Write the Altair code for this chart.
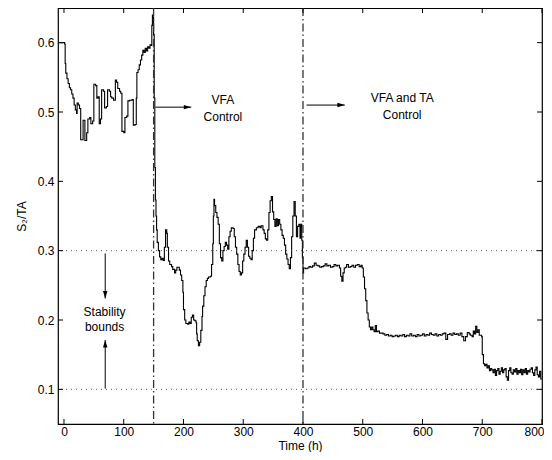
import altair as alt
import pandas as pd

# ---- main series, in segments (time h, S2/TA) ----
tA = [-8, 1, 2, 3, 5, 7, 9, 11, 13, 15, 17, 19, 21, 22, 24, 26, 28, 32, 35, 38, 40, 43, 45, 48]
vA = [0.600, 0.598, 0.570, 0.556, 0.548, 0.541, 0.535, 0.532, 0.526, 0.520, 0.510, 0.503, 0.498,
      0.513, 0.510, 0.505, 0.460, 0.488, 0.459, 0.470, 0.490, 0.492, 0.483, 0.487]
tB = [50, 53, 55, 57, 59, 61, 63, 66, 68, 71, 73, 76, 78, 80, 83, 86, 88, 90, 93, 95, 97, 100]
vB = [0.540, 0.538, 0.520, 0.522, 0.483, 0.490, 0.532, 0.530, 0.506, 0.508, 0.532, 0.530, 0.522,
      0.520, 0.517, 0.546, 0.543, 0.534, 0.530, 0.527, 0.472, 0.470]
tC = [102, 105, 107, 110, 114, 116, 119, 121, 122, 124, 126, 128, 130, 132, 134, 136, 138, 140]
vC = [0.492, 0.494, 0.516, 0.517, 0.518, 0.481, 0.482, 0.520, 0.557, 0.561, 0.568, 0.575, 0.582,
      0.589, 0.586, 0.592, 0.588, 0.594]
tD = [142, 144, 146, 147, 148, 149, 150, 151, 152, 153, 154, 155, 156, 158, 160, 162, 164, 166]
vD = [0.592, 0.597, 0.596, 0.625, 0.640, 0.637, 0.612, 0.520, 0.420, 0.373, 0.350, 0.330, 0.312,
      0.300, 0.291, 0.287, 0.289, 0.286]
tE = [168, 170, 172, 173, 175, 177, 180, 182, 185, 187, 189, 191, 193, 195, 197, 199, 200, 202]
vE = [0.305, 0.330, 0.325, 0.305, 0.285, 0.280, 0.277, 0.273, 0.268, 0.272, 0.276, 0.276, 0.272,
      0.265, 0.257, 0.240, 0.215, 0.200]
tF = [204, 207, 209, 211, 213, 215, 217, 219, 221, 222, 223, 225, 227, 229, 231, 232, 234, 236]
vF = [0.195, 0.194, 0.197, 0.195, 0.204, 0.207, 0.200, 0.199, 0.196, 0.180, 0.170, 0.163, 0.168,
      0.185, 0.205, 0.220, 0.235, 0.248]
tG = [238, 240, 242, 245, 247, 249, 250, 251, 252, 254, 256, 258, 260, 262, 264, 266, 268, 270]
vG = [0.257, 0.260, 0.262, 0.263, 0.280, 0.310, 0.350, 0.374, 0.365, 0.355, 0.348, 0.338, 0.310,
      0.290, 0.285, 0.300, 0.306, 0.312]
tH = [272, 274, 276, 278, 280, 283, 285, 287, 289, 291, 293, 295, 297, 299, 301, 303, 305, 307]
vH = [0.308, 0.302, 0.320, 0.328, 0.333, 0.332, 0.320, 0.305, 0.295, 0.280, 0.270, 0.265, 0.268,
      0.285, 0.295, 0.305, 0.315, 0.305]
tI = [309, 311, 313, 315, 317, 319, 322, 325, 328, 330, 333, 335, 337, 339, 341, 343, 345, 347]
vI = [0.292, 0.289, 0.287, 0.300, 0.318, 0.330, 0.333, 0.335, 0.333, 0.336, 0.330, 0.325, 0.317,
      0.315, 0.330, 0.355, 0.372, 0.378]
tJ = [349, 351, 353, 355, 357, 359, 361, 363, 365, 367, 369, 371, 373, 375, 377, 379, 381, 383]
vJ = [0.356, 0.345, 0.335, 0.346, 0.336, 0.345, 0.338, 0.330, 0.322, 0.318, 0.308, 0.295, 0.288,
      0.280, 0.274, 0.290, 0.320, 0.350]
tK = [385, 387, 389, 391, 393, 395, 396, 397, 398, 399, 400, 401, 404, 407, 410, 413, 416, 419]
vK = [0.371, 0.350, 0.320, 0.335, 0.338, 0.318, 0.335, 0.338, 0.315, 0.290, 0.268, 0.275, 0.274,
      0.275, 0.277, 0.276, 0.278, 0.282]
tL = [422, 425, 428, 431, 434, 437, 440, 443, 446, 449, 452, 455, 458, 461, 463, 465, 467, 469]
vL = [0.279, 0.278, 0.276, 0.277, 0.278, 0.281, 0.278, 0.279, 0.276, 0.277, 0.280, 0.278, 0.279,
      0.275, 0.263, 0.256, 0.268, 0.275]
tM = [471, 473, 476, 479, 482, 485, 488, 491, 494, 497, 499, 501, 503, 505, 507, 509, 511, 513]
vM = [0.276, 0.280, 0.276, 0.277, 0.279, 0.276, 0.279, 0.280, 0.277, 0.279, 0.275, 0.262, 0.245,
      0.228, 0.210, 0.200, 0.190, 0.186]
tN = [515, 517, 519, 521, 523, 525, 528, 531, 534, 537, 540, 543, 546, 549, 552, 555, 558, 561]
vN = [0.190, 0.186, 0.183, 0.192, 0.183, 0.184, 0.181, 0.181, 0.180, 0.178, 0.179, 0.177, 0.178,
      0.176, 0.177, 0.178, 0.176, 0.178]
tO = [564, 567, 570, 573, 576, 579, 582, 585, 588, 591, 594, 597, 600, 603, 606, 609, 612, 615]
vO = [0.177, 0.179, 0.176, 0.178, 0.177, 0.180, 0.177, 0.178, 0.176, 0.179, 0.177, 0.178, 0.180,
      0.177, 0.179, 0.178, 0.181, 0.179]
tP = [618, 621, 624, 627, 630, 633, 636, 639, 642, 645, 648, 651, 654, 657, 660, 663, 666, 669]
vP = [0.178, 0.180, 0.177, 0.179, 0.178, 0.180, 0.181, 0.172, 0.179, 0.180, 0.178, 0.181, 0.179,
      0.180, 0.178, 0.181, 0.176, 0.170]
tQ = [672, 675, 678, 680, 683, 685, 687, 689, 691, 693, 695, 697, 699, 700, 702, 704, 706, 708]
vQ = [0.176, 0.182, 0.180, 0.178, 0.176, 0.184, 0.180, 0.191, 0.182, 0.186, 0.178, 0.178, 0.176,
      0.150, 0.137, 0.134, 0.136, 0.131]
tR = [710, 712, 714, 716, 718, 720, 722, 724, 726, 728, 730, 732, 734, 736, 738, 740, 742, 744]
vR = [0.134, 0.127, 0.130, 0.128, 0.124, 0.129, 0.120, 0.127, 0.130, 0.122, 0.126, 0.131, 0.124,
      0.128, 0.130, 0.118, 0.113, 0.127]
tS = [746, 748, 750, 752, 754, 756, 758, 760, 762, 764, 766, 768, 770, 772, 774, 776, 778, 780]
vS = [0.131, 0.124, 0.122, 0.128, 0.125, 0.130, 0.122, 0.127, 0.124, 0.129, 0.121, 0.128, 0.124,
      0.130, 0.122, 0.127, 0.125, 0.129]
tT = [782, 784, 786, 788, 790, 792, 794, 796, 798, 800]
vT = [0.131, 0.124, 0.120, 0.128, 0.132, 0.121, 0.118, 0.126, 0.115, 0.115]

segments = [(tA, vA), (tB, vB), (tC, vC), (tD, vD), (tE, vE), (tF, vF), (tG, vG), (tH, vH),
            (tI, vI), (tJ, vJ), (tK, vK), (tL, vL), (tM, vM), (tN, vN), (tO, vO), (tP, vP),
            (tQ, vQ), (tR, vR), (tS, vS), (tT, vT)]
time_h, s2_ta = [], []
for ts, vs in segments:
    assert len(ts) == len(vs), (ts[0], len(ts), len(vs))
    time_h += ts
    s2_ta += vs

x_ticks = [0, 100, 200, 300, 400, 500, 600, 700, 800]
y_ticks = [0.1, 0.2, 0.3, 0.4, 0.5, 0.6]
bounds = [0.1, 0.3]
switch_times = [150, 400]

labels_text = ["VFA", "Control", "VFA and TA", "Control", "Stability", "bounds"]
labels_x = [266, 266, 566, 566, 68, 68]
labels_y = [0.517, 0.493, 0.520, 0.4955, 0.212, 0.190]

arrow_x = [153, 406, 69, 69]
arrow_x2 = [213, 470, 69, 69]
arrow_y = [0.507, 0.510, 0.296, 0.101]
arrow_y2 = [0.507, 0.510, 0.231, 0.171]
arrow_angle = [0, 0, 90, 270]

W, H = 484, 416
FONT = "Liberation Sans"

xs = alt.Scale(domain=[-10, 800], nice=False, zero=False)
ys = alt.Scale(domain=[0.05, 0.65], nice=False, zero=False)
x_axis = alt.Axis(values=x_ticks, ticks=False, domain=False, grid=False, labelPadding=2,
                  format="d", titleY=16,
                  labelAlign=alt.condition("datum.value == 800", alt.value("right"), alt.value("center")),
                  labelOffset=alt.condition("datum.value == 800", alt.value(2), alt.value(0)))
y_axis = alt.Axis(values=y_ticks, ticks=False, domain=False, grid=False, labelPadding=4,
                  format=".1f", titleX=-30, titleY=H / 2)


def X(field="t"):
    return alt.X(f"{field}:Q", scale=xs, axis=x_axis, title="Time (h)")


def Y(field="v"):
    return alt.Y(f"{field}:Q", scale=ys, axis=y_axis, title="S₂/TA")


series = pd.DataFrame({"t": time_h, "v": s2_ta})
xt = pd.DataFrame({"t": x_ticks})
yt = pd.DataFrame({"v": y_ticks})
bd = pd.DataFrame({"v": bounds})
sw = pd.DataFrame({"t": switch_times})
lab = pd.DataFrame({"t": labels_x, "v": labels_y, "text": labels_text})
arr = pd.DataFrame({"t": arrow_x, "t2": arrow_x2, "v": arrow_y, "v2": arrow_y2, "a": arrow_angle})
heads_df = pd.DataFrame({"t": arrow_x2, "v": arrow_y2, "a": arrow_angle})

line = alt.Chart(series).mark_line(interpolate="step-after", color="black", strokeWidth=1.1).encode(
    x=X(), y=Y())

dotted = alt.Chart(bd).mark_rule(color="#555555", strokeWidth=1, strokeDash=[1, 4]).encode(y=Y())

dashdot = alt.Chart(sw).mark_rule(color="#333333", strokeWidth=1.3,
                                  strokeDash=[8, 3, 1.5, 3]).encode(x=X())

texts = alt.Chart(lab).mark_text(font=FONT, fontSize=12, color="black", align="center",
                                 baseline="middle").encode(x=X(), y=Y(), text="text:N")

shafts = alt.Chart(arr).mark_rule(color="black", strokeWidth=1).encode(
    x=X(), x2="t2:Q", y=Y(), y2="v2:Q")

heads = alt.Chart(heads_df).mark_point(shape="M0,0L-1,-0.3L-1,0.3Z", size=220, filled=True,
                                       color="black", opacity=1).encode(
    x=X(), y=Y(), angle=alt.Angle("a:Q", scale=None))

tick_b = alt.Chart(xt).mark_rule(color="black").encode(x=X(), y=alt.value(H), y2=alt.value(H - 5))
tick_t = alt.Chart(xt).mark_rule(color="black").encode(x=X(), y=alt.value(0), y2=alt.value(5))
tick_l = alt.Chart(yt).mark_rule(color="black").encode(y=Y(), x=alt.value(0), x2=alt.value(5))
tick_r = alt.Chart(yt).mark_rule(color="black").encode(y=Y(), x=alt.value(W), x2=alt.value(W - 5))

chart = alt.layer(line, dotted, dashdot, shafts, heads, texts, tick_b, tick_t, tick_l, tick_r).properties(
    width=W, height=H,
    autosize=alt.AutoSizeParams(type="none"),
    padding={"left": 50, "top": 0, "right": 2, "bottom": 28},
    background="white",
).configure(font=FONT).configure_view(stroke="black", strokeWidth=1.2).configure_axis(
    labelFont=FONT, titleFont=FONT, labelFontSize=12, titleFontSize=12,
    labelColor="black", titleColor="black", titleFontWeight="normal")

chart.save("out.html", embed_options={"renderer": "svg", "actions": False})
